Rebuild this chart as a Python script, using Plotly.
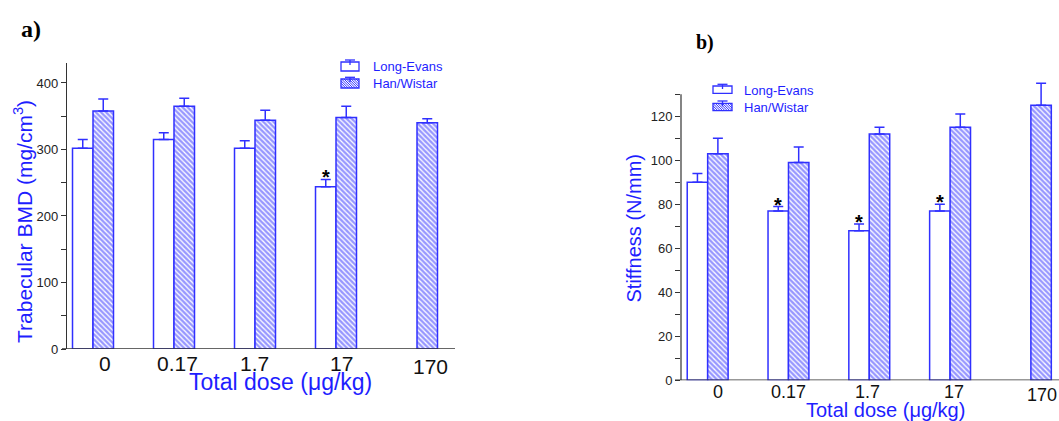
import plotly.graph_objects as go

# ---------------- data ----------------
doses = ["0", "0.17", "1.7", "17", "170"]
series_names = ["Long-Evans", "Han/Wistar"]

bmd_le = [302, 315, 302, 244, None]
bmd_le_err = [13, 10, 11, 11, None]
bmd_hw = [358, 365, 344, 348, 340]
bmd_hw_err = [18, 12, 15, 17, 6]
bmd_le_sig = [False, False, False, True, False]

stiff_le = [90, 77, 68, 77, None]
stiff_le_err = [4, 2, 3, 3, None]
stiff_hw = [103, 99, 112, 115, 125]
stiff_hw_err = [7, 7, 3, 6, 10]
stiff_le_sig = [False, True, True, True, False]

# ---------------- style ----------------
W, H = 1059, 421
BLUE = "#3030ff"
TBLUE = "#1e1eff"
AXC = "#333333"
FONT = "Liberation Sans"
BW = 0.253


def px(x):
    return x / W


def py(y):
    return 1 - y / H


def errs(e):
    return [v if v is not None else 0 for v in e]


fig = go.Figure()


def add_panel(xa, ya, le, le_err, hw, hw_err):
    fig.add_trace(go.Bar(
        x=doses, y=le, width=BW, offset=-BW, name=series_names[0],
        marker=dict(color="white", line=dict(color=BLUE, width=1.5)),
        error_y=dict(type="data", symmetric=False, array=errs(le_err),
                     arrayminus=[0] * len(doses), color=BLUE, thickness=1.5, width=5),
        xaxis=xa, yaxis=ya, showlegend=False))
    fig.add_trace(go.Bar(
        x=doses, y=hw, width=BW, offset=0, name=series_names[1],
        marker=dict(color="white", line=dict(color=BLUE, width=1.5),
                    pattern=dict(shape="\\", fgcolor=BLUE, bgcolor="white",
                                 size=3.6, solidity=0.65)),
        error_y=dict(type="data", symmetric=False, array=errs(hw_err),
                     arrayminus=[0] * len(doses), color=BLUE, thickness=1.5, width=5),
        xaxis=xa, yaxis=ya, showlegend=False))


add_panel("x", "y", bmd_le, bmd_le_err, bmd_hw, bmd_hw_err)
add_panel("x2", "y2", stiff_le, stiff_le_err, stiff_hw, stiff_hw_err)

xcommon = dict(type="category", categoryorder="array", categoryarray=doses,
               showline=False, showticklabels=False, ticks="", showgrid=False,
               zeroline=False, fixedrange=True)
ycommon = dict(ticks="outside", ticklen=5, tickwidth=1.2, tickcolor=AXC,
               showgrid=False, zeroline=False, tickfont=dict(size=13, color="#222222"),
               linecolor=AXC, linewidth=1.2, tick0=0, fixedrange=True)

shapes = []
annotations = []

fig.update_layout(
    xaxis=dict(domain=[px(67), px(455)], range=[-0.321, 4.469],
               anchor="y", **xcommon),
    yaxis=dict(domain=[py(349), py(63)], range=[0, 430], anchor="x", dtick=100,
               showline=True, minor=dict(dtick=50, ticks="outside", ticklen=5,
                                         tickcolor=AXC, tickwidth=1.2), **ycommon),
    xaxis2=dict(domain=[px(681), 1.0], range=[-0.330, 4.348], anchor="y2", **xcommon),
    yaxis2=dict(domain=[py(380.3), py(78.9)], range=[0, 137], anchor="x2", dtick=20,
                showline=False, minor=dict(dtick=10, ticks="outside", ticklen=5,
                                           tickcolor=AXC, tickwidth=1.2), **ycommon),
)

# axis lines
shapes.append(dict(type="line", xref="paper", yref="y", x0=px(62), x1=px(455),
                   y0=0, y1=0, line=dict(color=AXC, width=1.5)))
shapes.append(dict(type="line", xref="paper", yref="y2", x0=px(675), x1=1.0,
                   y0=0, y1=0, line=dict(color=AXC, width=1.5)))
shapes.append(dict(type="line", xref="paper", yref="y2", x0=px(681), x1=px(681),
                   y0=0, y1=130, line=dict(color=AXC, width=1.2)))


def txt(x, y, text, size, color, family=FONT, angle=0, xanchor="center"):
    annotations.append(dict(x=px(x), y=py(y), xref="paper", yref="paper", text=text,
                            showarrow=False, xanchor=xanchor, yanchor="middle",
                            textangle=angle, font=dict(size=size, color=color,
                                                       family=family)))


# ----- tick labels (x) -----
def tick_labels(xref, shifts, ycen, y170, size):
    for i, d in enumerate(doses):
        annotations.append(dict(x=i, xref=xref, y=py(y170 if i == len(doses) - 1 else ycen),
                                yref="paper", text=d, showarrow=False, xshift=shifts[i],
                                xanchor="center", yanchor="middle",
                                font=dict(size=size, color="#111111", family=FONT)))


tick_labels("x", [12, 3, -1, 5, 13], 363, 366, 21)
tick_labels("x2", [10, 0, -2, 4, 11], 392, 394.5, 18)

# ----- axis titles -----
txt(280, 382, "Total dose (μg/kg)", 23, TBLUE)
txt(885, 410, "Total dose (μg/kg)", 20, TBLUE)
txt(23, 222, "Trabecular BMD (mg/cm<sup>3</sup>)", 21, TBLUE, angle=-90)
txt(633, 228.5, "Stiffness (N/mm)", 20, TBLUE, angle=-90)

# ----- panel letters -----
txt(31, 29, "<b>a)</b>", 24, "black", family="Liberation Serif")
txt(705, 42, "<b>b)</b>", 20, "black", family="Liberation Serif")


# ----- significance asterisks -----
def stars(xref, yref, vals, err, sig):
    for i, s in enumerate(sig):
        if s:
            annotations.append(dict(x=i, xref=xref, y=vals[i] + err[i], yref=yref,
                                    text="<b>*</b>", showarrow=False, xshift=-BW * 40.5,
                                    xanchor="center", yanchor="bottom", yshift=-11,
                                    font=dict(size=20, color="black", family=FONT)))


stars("x", "y", bmd_le, bmd_le_err, bmd_le_sig)
stars("x2", "y2", stiff_le, stiff_le_err, stiff_le_sig)


# ----- legends (drawn) -----
def legend(x0, x1, rows, text_x):
    for k, (ytop, ybot, ycap, ytext) in enumerate(rows):
        xc = (x0 + x1) / 2
        shapes.append(dict(type="rect", xref="paper", yref="paper",
                           x0=px(x0), x1=px(x1), y0=py(ybot), y1=py(ytop),
                           line=dict(color=BLUE, width=1.3), fillcolor="white"))
        if k == 1:
            h = ybot - ytop
            a = x0 - h
            path = ""
            while a < x1:
                sx, sy = a, ytop
                ex, ey = a + h, ybot
                if sx < x0:
                    sy = ytop + (x0 - sx)
                    sx = x0
                if ex > x1:
                    ey = ybot - (ex - x1)
                    ex = x1
                path += f"M{px(sx)},{py(sy)} L{px(ex)},{py(ey)} "
                a += 2.4
            shapes.append(dict(type="path", xref="paper", yref="paper", path=path,
                               line=dict(color=BLUE, width=1)))
        shapes.append(dict(type="line", xref="paper", yref="paper",
                           x0=px(xc - 5), x1=px(xc + 5), y0=py(ycap), y1=py(ycap),
                           line=dict(color=BLUE, width=1.3)))
        shapes.append(dict(type="line", xref="paper", yref="paper",
                           x0=px(xc), x1=px(xc), y0=py(ycap), y1=py(ytop + 3),
                           line=dict(color=BLUE, width=1.3)))
        txt(text_x, ytext, series_names[k], 13, TBLUE, xanchor="left")


legend(341, 359, [(62, 71, 60, 66.5), (79, 88, 77.3, 83.3)], 371)
legend(713, 732, [(86, 93.3, 84.3, 90), (103.3, 110.7, 101, 107.3)], 742)

fig.update_layout(
    width=W, height=H, margin=dict(l=0, r=0, t=0, b=0, autoexpand=False),
    paper_bgcolor="white", plot_bgcolor="white", barmode="overlay",
    font=dict(family=FONT, color="#222222"),
    shapes=shapes, annotations=annotations, showlegend=False,
)

fig.write_html("out.html", config={"displayModeBar": False},
               post_script="document.body.style.margin='0';"
                           "document.body.style.overflow='hidden';")
